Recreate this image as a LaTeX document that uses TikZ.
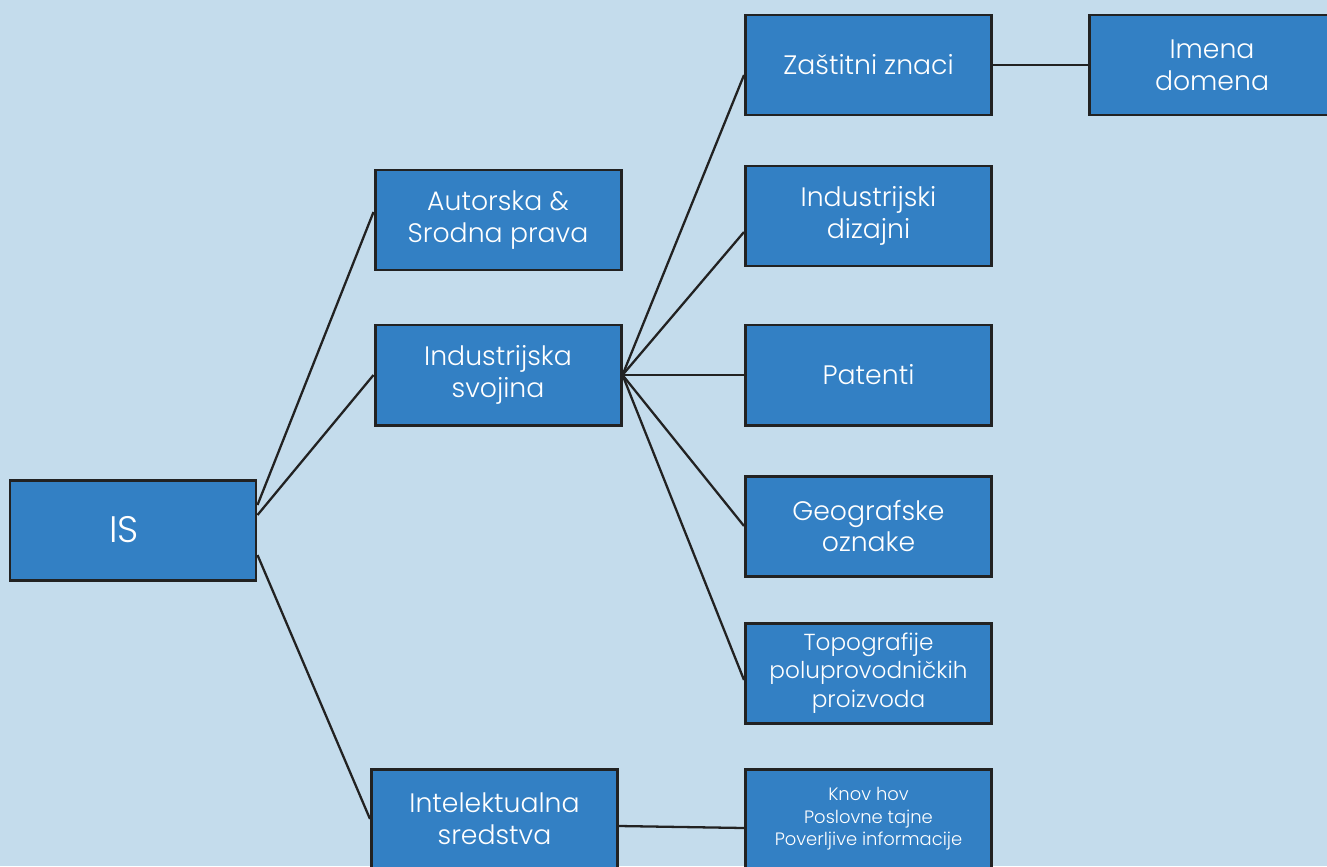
\documentclass[tikz,border=0pt]{standalone}
\usepackage{fontspec}
\setmainfont{Poppins}[UprightFont=* Light]
\usepackage{tikz}
\usetikzlibrary{positioning}
\definecolor{bgblue}{HTML}{C4DCEC}
\definecolor{boxblue}{HTML}{3380C4}
\definecolor{edge}{HTML}{222222}

\begin{document}
\begin{tikzpicture}[
	isbox/.style={draw=edge,line width=1.7pt,fill=boxblue,text=white,minimum width=4.92cm,minimum height=2cm,align=center,font=\fontsize{15.2}{18}\selectfont},
	link/.style={draw=edge,line width=1.3pt}]
	\fill[bgblue] (0,0) rectangle (26.54,-17.32);
	\useasboundingbox (0,0) rectangle (26.54,-17.32);
	\node[isbox,font=\fontsize{21}{24}\selectfont] (is) at (2.66,-10.6) {IS\hspace*{0.35cm}};
	\node[isbox] (autor) at (9.96,-4.4) {Autorska \&\\Srodna prava};
	\node[isbox] (indsv) at (9.96,-7.5) {Industrijska\\svojina};
	\node[isbox] (intel) at (9.89,-16.38) {Intelektualna\\sredstva};
	\node[isbox] (znaci) at (17.37,-1.3) {Zaštitni znaci};
	\node[isbox] (dizajn) at (17.37,-4.32) {Industrijski\\dizajni};
	\node[isbox] (patent) at (17.37,-7.5) {Patenti};
	\node[isbox] (geo) at (17.37,-10.52) {Geografske\\oznake};
	\node[isbox,font=\fontsize{13.2}{16.2}\selectfont] (topo) at (17.37,-13.46) {Topografije\\poluprovodničkih\\proizvoda};
	\node[isbox,font=\fontsize{10.2}{12.8}\selectfont] (knov) at (17.37,-16.38) {Knov hov\\Poslovne tajne\\Poverljive informacije};
	\node[isbox] (domena) at (24.24,-1.3) {Imena\\domena};
	\draw[link] ([yshift=0.5cm]is.east) -- ([yshift=0.16cm]autor.west);
	\draw[link] ([yshift=0.3cm]is.east) -- (indsv.west);
	\draw[link] ([yshift=-0.5cm]is.east) -- (intel.west);
	\draw[link] (indsv.east) -- ([yshift=-0.2cm]znaci.west);
	\draw[link] (indsv.east) -- ([yshift=-0.32cm]dizajn.west);
	\draw[link] (indsv.east) -- (patent.west);
	\draw[link] (indsv.east) -- (geo.west);
	\draw[link] (indsv.east) -- ([yshift=-0.14cm]topo.west);
	\draw[link] ([yshift=-0.14cm]intel.east) -- ([yshift=-0.18cm]knov.west);
	\draw[link] (znaci.east) -- (domena.west);
\end{tikzpicture}
\end{document}
